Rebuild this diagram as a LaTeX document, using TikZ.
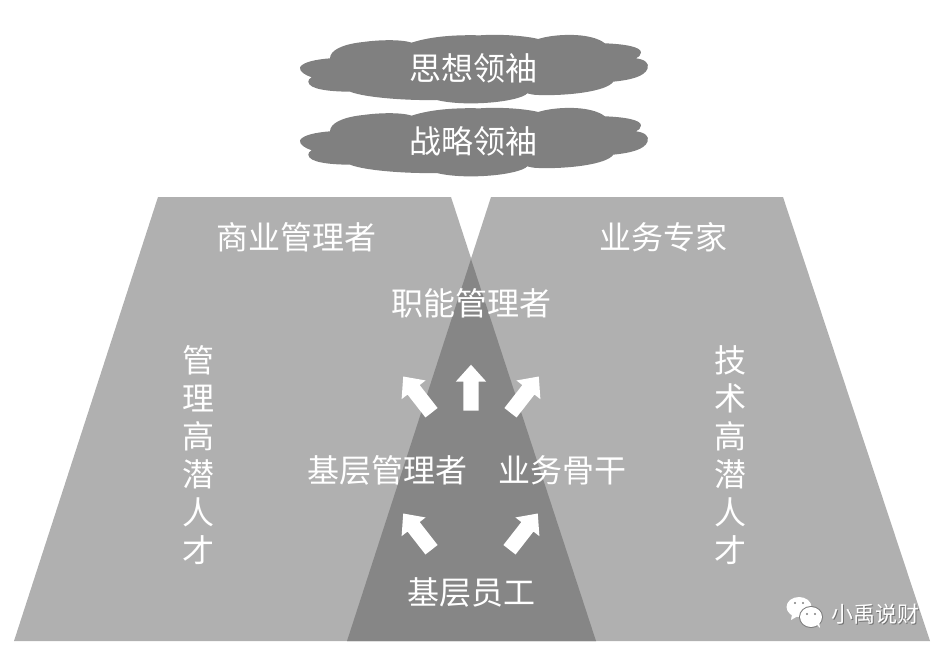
\documentclass[tikz,border=0pt]{standalone}
\usepackage{fontspec}
\usetikzlibrary{positioning,shapes.arrows}
\newfontfamily\cjk{Noto Sans CJK SC}
\definecolor{panelgray}{HTML}{B0B0B0}
\definecolor{coregray}{HTML}{868686}
\definecolor{cloudgray}{HTML}{808080}

\begin{document}
\begin{tikzpicture}[
  x=1pt, y=-1pt,
  label/.style={
        inner sep=0,
        text=white,
        font=\cjk\fontsize{32}{38}\selectfont
  },
  stack/.style={
        label,
        align=center
  },
  upblock/.style={
        single arrow,
        fill=white,
        inner xsep=0,
        inner ysep=7.5pt,
        minimum height=46pt,
        single arrow head extend=7.5pt,
        single arrow head indent=0pt,
        single arrow tip angle=84
  },
  cloudshape/.pic={
    \fill[cloudgray] (60,112) .. controls (68,96) and (110,88) .. (150,85)
        .. controls (150,60) and (190,42) .. (250,36)
        .. controls (300,29) and (365,28) .. (395,38)
        .. controls (450,20) and (520,14) .. (600,16)
        .. controls (650,12) and (730,16) .. (775,27)
        .. controls (820,12) and (930,5) .. (975,40)
        .. controls (1030,42) and (1085,50) .. (1083,68)
        .. controls (1083,76) and (1075,82) .. (1068,85)
        .. controls (1095,88) and (1108,100) .. (1103,115)
        .. controls (1095,140) and (1050,150) .. (1000,155)
        .. controls (980,185) and (860,198) .. (775,195)
        .. controls (760,195) and (750,192) .. (742,190)
        .. controls (720,215) and (560,232) .. (470,210)
        .. controls (400,212) and (260,205) .. (210,185)
        .. controls (150,185) and (85,178) .. (85,155)
        .. controls (85,150) and (88,145) .. (95,142)
        .. controls (75,135) and (58,125) .. (60,112) -- cycle;
  }
]

    \useasboundingbox (0,0) rectangle (952,655);

    % panels
    \fill[panelgray] (158,197) -- (451,197) -- (596,641) -- (14,641) -- cycle;
    \fill[panelgray] (491,197) -- (783,197) -- (930,641) -- (347,641) -- cycle;
    \fill[coregray] (471,259) -- (596,641) -- (347,641) -- cycle;

    % clouds
    \pic[scale=0.3333] at (280,30) {cloudshape};
    \pic[scale=0.3333] at (280,103) {cloudshape};
    \node[label] (thought) at (473,68) {思想领袖};
    \node[label] (strategy) at (473,141) {战略领袖};

    \node[label] (business) at (296,237) {商业管理者};
    \node[label] (expert) at (663,237) {业务专家};
    \node[label] (functional) at (471,303) {职能管理者};
    \node[label] (manager) at (387,470) {基层管理者};
    \node[label] (backbone) at (562,470) {业务骨干};
    \node[label] (staff) at (471,592) {基层员工};

    \node[stack] (mgrtalent) at (198,455) {管\\理\\高\\潜\\人\\才};
    \node[stack] (techtalent) at (730,455) {技\\术\\高\\潜\\人\\才};

    % arrows
    \node[upblock, rotate=90] (upmid) at (471,392) {};
    \node[upblock, rotate=128] (upleft) at (420,398) {};
    \node[upblock, rotate=52] (upright) at (522,398) {};
    \node[upblock, rotate=128] (lowleft) at (420,535) {};
    \node[upblock, rotate=52] (lowright) at (521,535) {};

    % mark
    \fill[white] (799,607) ellipse (12.5 and 10);
    \fill[white] (792,614) -- (791,620) -- (798,616) -- cycle;
    \fill[panelgray!70!black] (811,617) ellipse (12 and 11);
    \fill[white] (811,617) ellipse (11 and 10);
    \fill[white] (816,624) -- (820,628) -- (819,621) -- cycle;
    \fill[gray] (795,603) circle (1.2) (803,603) circle (1.2);
    \fill[gray] (807,614) circle (1.2) (815,614) circle (1.2);
    \node[inner sep=0, text=black!55, font=\cjk\fontsize{22}{22}\selectfont] (markshadow) at (876,615) {小禹说财};
    \node[inner sep=0, text=white, font=\cjk\fontsize{22}{22}\selectfont] (marktext) at (875,614) {小禹说财};
\end{tikzpicture}
\end{document}
